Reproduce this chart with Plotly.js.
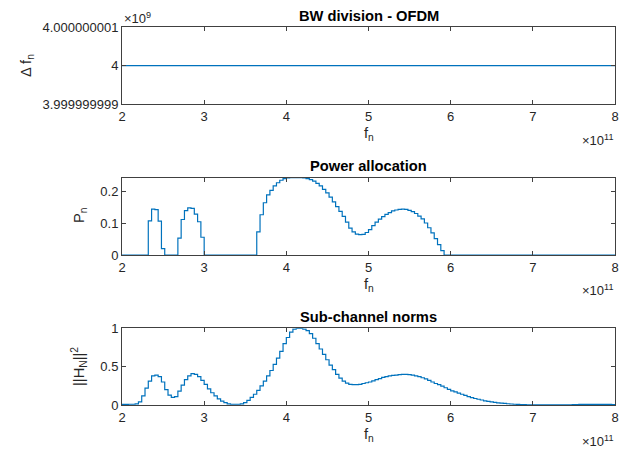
<!DOCTYPE html>
<html>
<head>
<meta charset="utf-8">
<script src="https://cdn.plot.ly/plotly-3.0.1.min.js"></script>
<style>html,body{margin:0;padding:0;background:#fff;} #chart{width:634px;height:450px;}</style>
</head>
<body>
<div id="chart"></div>
<script>
// Frequency grid: sub-channels of 4 GHz from 200 GHz
const fStart = 2e11;
const fStep = 4e9;
const xTickVals = [2e11, 3e11, 4e11, 5e11, 6e11, 7e11, 8e11];
const xTickText = ['2', '3', '4', '5', '6', '7', '8'];

// Δf_n (Hz) for each sub-channel (OFDM: equal widths)
const deltaF = [
4e9,4e9,4e9,4e9,4e9,4e9,4e9,4e9,4e9,4e9,4e9,4e9,4e9,4e9,4e9,4e9,4e9,4e9,4e9,4e9,
4e9,4e9,4e9,4e9,4e9,4e9,4e9,4e9,4e9,4e9,4e9,4e9,4e9,4e9,4e9,4e9,4e9,4e9,4e9,4e9,
4e9,4e9,4e9,4e9,4e9,4e9,4e9,4e9,4e9,4e9,4e9,4e9,4e9,4e9,4e9,4e9,4e9,4e9,4e9,4e9,
4e9,4e9,4e9,4e9,4e9,4e9,4e9,4e9,4e9,4e9,4e9,4e9,4e9,4e9,4e9,4e9,4e9,4e9,4e9,4e9,
4e9,4e9,4e9,4e9,4e9,4e9,4e9,4e9,4e9,4e9,4e9,4e9,4e9,4e9,4e9,4e9,4e9,4e9,4e9,4e9,
4e9,4e9,4e9,4e9,4e9,4e9,4e9,4e9,4e9,4e9,4e9,4e9,4e9,4e9,4e9,4e9,4e9,4e9,4e9,4e9,
4e9,4e9,4e9,4e9,4e9,4e9,4e9,4e9,4e9,4e9,4e9,4e9,4e9,4e9,4e9,4e9,4e9,4e9,4e9,4e9,
4e9,4e9,4e9,4e9,4e9,4e9,4e9,4e9,4e9,4e9,4e9];

// Power allocation P_n
const powerP = [
0,0,0,0,0,0,0,0,
0.108,0.145,0.143,0.107,0.02,
0,0,0,0,
0.053,0.112,0.14,0.149,0.147,0.129,0.105,0.056,
0,0,0,0,0,0,0,0,0,0,0,0,0,0,0,0,
0.073,0.127,0.165,0.19,0.204,0.218,0.228,0.236,0.241,0.243,
0.244,0.244,0.244,0.244,0.243,0.241,0.238,0.233,0.226,
0.218,0.207,0.196,0.183,0.168,0.153,0.138,0.122,
0.104,0.085,0.073,0.066,0.064,0.065,0.071,0.08,0.093,0.104,
0.113,0.121,0.128,0.134,0.139,0.142,0.144,0.145,0.144,0.141,
0.137,0.131,0.123,0.114,0.101,0.086,0.07,0.052,0.033,0.014,
0,0,0,0,0,0,0,0,0,0,0,0,0,0,0,0,0,0,0,0,0,0,0,0,0,0,
0,0,0,0,0,0,0,0,0,0,0,0,0,0,0,0,0,0,0,0,0,0,0,0,0,0,0];

// Sub-channel norms ||H_N||^2
const normH = [
0.008,0.008,0.01,0.01,0.015,
0.04,0.12,0.22,0.31,0.38,
0.39,0.37,0.3,0.2,0.13,
0.1,0.11,0.18,0.26,0.33,
0.38,0.41,0.4,0.37,0.32,
0.27,0.21,0.16,0.12,0.08,
0.05,0.03,0.015,0.01,0.01,
0.01,0.015,0.03,0.06,0.1,
0.14,0.19,0.25,0.31,0.38,
0.45,0.53,0.61,0.7,0.8,
0.88,0.95,0.99,1.0,1.0,
0.99,0.97,0.93,0.87,0.8,
0.73,0.66,0.59,0.52,0.46,
0.4,0.35,0.31,0.285,0.27,
0.265,0.265,0.27,0.28,0.29,
0.3,0.315,0.33,0.345,0.36,
0.37,0.38,0.385,0.39,0.395,
0.4,0.4,0.395,0.39,0.38,
0.37,0.355,0.34,0.32,0.3,
0.28,0.265,0.245,0.225,0.205,
0.185,0.17,0.155,0.14,0.125,
0.11,0.095,0.085,0.075,0.065,
0.055,0.048,0.04,0.034,0.028,
0.024,0.02,0.016,0.013,0.01,
0.008,0.006,0.004,0.003,0.002,
0.002,0.001,0.001,0.001,0.001,
0.001,0.001,0.001,0.001,0.002,
0.002,0.003,0.005,0.006,0.007,
0.007,0.007,0.007,0.007,0.007,
0.007,0.007,0.007,0.007,0.006,0.006];

const W = 634, H = 450;
const px = v => v / W;
const py = v => 1 - v / H;
const axisCol = '#404040';
const textCol = '#262626';
const lineCol = '#0072BD';
const fontFam = '"Liberation Sans", Arial, Helvetica, sans-serif';

function stairs(y, xa, ya) {
  return {type: 'scatter', mode: 'lines', x0: fStart, dx: fStep, y: y,
    xaxis: xa, yaxis: ya, line: {color: lineCol, width: 1.2, shape: 'hv'},
    hoverinfo: 'skip', showlegend: false};
}

const xBase = {domain: [px(122), px(615)], range: [2e11, 8e11], tickmode: 'array',
  tickvals: xTickVals, ticktext: xTickText, ticks: 'inside', ticklen: 4, tickcolor: axisCol,
  showline: true, linecolor: axisCol, linewidth: 1, mirror: 'ticks', showgrid: false,
  zeroline: false, tickfont: {size: 13, color: textCol, family: fontFam}};
const yBase = {ticks: 'inside', ticklen: 4, tickcolor: axisCol, showline: true,
  linecolor: axisCol, linewidth: 1, mirror: 'ticks', showgrid: false, zeroline: false,
  tickfont: {size: 13, color: textCol, family: fontFam}, tickmode: 'array'};

const data = [
  stairs(deltaF, 'x', 'y'),
  stairs(powerP, 'x2', 'y2'),
  stairs(normH, 'x3', 'y3')
];

const ann = [];
function addText(text, x, y, opts) {
  ann.push(Object.assign({text: text, x: px(x), y: py(y), xref: 'paper', yref: 'paper',
    showarrow: false, xanchor: 'center', yanchor: 'middle',
    font: {size: 13, color: textCol, family: fontFam}}, opts || {}));
}
const labFont = {size: 14.7, color: textCol, family: fontFam};
// titles
addText('<b>BW division - OFDM</b>', 368.5, 16, {font: {size: 14.7, color: '#000', family: fontFam}});
addText('<b>Power allocation</b>', 368.5, 166, {font: {size: 14.7, color: '#000', family: fontFam}});
addText('<b>Sub-channel norms</b>', 368.5, 317, {font: {size: 14.7, color: '#000', family: fontFam}});
// x labels
addText('f<sub>n</sub>', 368.5, 134, {font: labFont});
addText('f<sub>n</sub>', 368.5, 285, {font: labFont});
addText('f<sub>n</sub>', 368.5, 435, {font: labFont});
// y labels
addText('Δ f<sub>n</sub>', 27, 66, {textangle: -90, font: labFont});
addText('P<sub>n</sub>', 80, 215, {textangle: -90, font: labFont});
addText('||H<sub>N</sub>||<sup>2</sup>', 79, 367, {textangle: -90, font: labFont});
// exponents
addText('×10<sup>9</sup>', 122, 18, {xanchor: 'left'});
addText('×10<sup>11</sup>', 616, 140, {xanchor: 'right'});
addText('×10<sup>11</sup>', 616, 290, {xanchor: 'right'});
addText('×10<sup>11</sup>', 616, 441, {xanchor: 'right'});

const layout = {
  width: W, height: H, margin: {l: 0, r: 0, t: 0, b: 0},
  paper_bgcolor: '#fff', plot_bgcolor: '#fff',
  font: {family: fontFam, color: textCol},
  xaxis: Object.assign({}, xBase, {anchor: 'y'}),
  yaxis: Object.assign({}, yBase, {domain: [py(104), py(27.3)], anchor: 'x',
    range: [3999999999, 4000000001], tickvals: [3999999999, 4e9, 4000000001],
    ticktext: ['3.999999999', '4', '4.000000001']}),
  xaxis2: Object.assign({}, xBase, {anchor: 'y2'}),
  yaxis2: Object.assign({}, yBase, {domain: [py(255), py(177.7)], anchor: 'x2',
    range: [0, 0.244], tickvals: [0, 0.1, 0.2], ticktext: ['0', '0.1', '0.2']}),
  xaxis3: Object.assign({}, xBase, {anchor: 'y3'}),
  yaxis3: Object.assign({}, yBase, {domain: [py(405), py(328.3)], anchor: 'x3',
    range: [0, 1], tickvals: [0, 0.5, 1], ticktext: ['0', '0.5', '1']}),
  annotations: ann
};

Plotly.newPlot('chart', data, layout, {staticPlot: true, displayModeBar: false});
</script>
</body>
</html>
